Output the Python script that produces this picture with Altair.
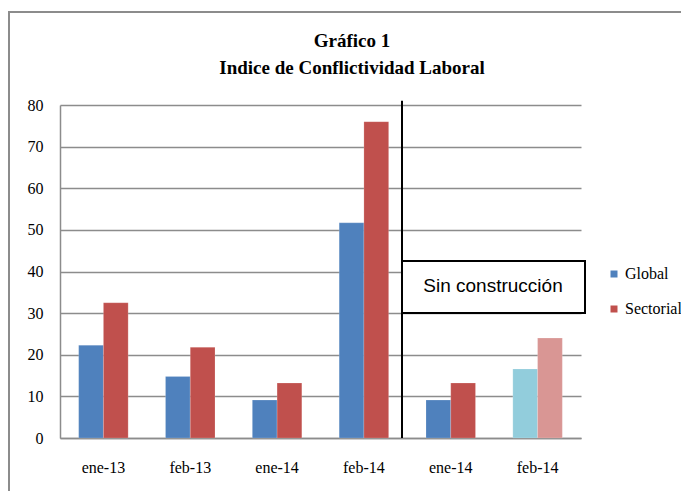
import altair as alt
import pandas as pd

# ---- data ----
categories = ["ene-13", "feb-13", "ene-14", "feb-14", "ene-14*", "feb-14*"]
global_vals = [22.3, 14.8, 9.1, 51.7, 9.1, 16.6]
sectorial_vals = [32.5, 21.8, 13.2, 76.0, 13.2, 24.0]
global_tone = ["Global", "Global", "Global", "Global", "Global", "Global claro"]
sectorial_tone = ["Sectorial", "Sectorial", "Sectorial", "Sectorial", "Sectorial", "Sectorial claro"]
y_ticks = [0, 10, 20, 30, 40, 50, 60, 70, 80]
tones = ["Global", "Sectorial", "Global claro", "Sectorial claro"]
tone_colors = ["#4F81BD", "#C0504D", "#92CDDC", "#D99694"]
title_lines = ["Gráfico 1", "Indice de Conflictividad Laboral"]
box_label = ["Sin construcción"]

SERIF = "Liberation Serif"

rows = []
for c, g, s, gt, st in zip(categories, global_vals, sectorial_vals, global_tone, sectorial_tone):
    rows.append({"cat": c, "series": "Global", "tone": gt, "value": g})
    rows.append({"cat": c, "series": "Sectorial", "tone": st, "value": s})
df = pd.DataFrame(rows)

xscale = alt.Scale(domain=categories, paddingInner=0.43, paddingOuter=0.215)
yscale = alt.Scale(domain=[0, 80])

bars = alt.Chart(df).mark_bar(stroke="white", strokeOpacity=0.35, strokeWidth=0.5).encode(
    x=alt.X("cat:N", scale=xscale, sort=categories,
            axis=alt.Axis(title=None, labelAngle=0, ticks=False, labelPadding=21,
                          labelExpr="replace(datum.label, '*', '')",
                          domainColor="#8c8c8c", domainWidth=1.5,
                          labelFont=SERIF, labelFontSize=16, labelColor="black")),
    xOffset=alt.XOffset("series:N", sort=["Global", "Sectorial"]),
    y=alt.Y("value:Q", scale=yscale,
            axis=alt.Axis(title=None, values=y_ticks, ticks=False, labelPadding=17,
                          grid=True, gridColor="#8c8c8c", gridWidth=1.5,
                          domainColor="#8c8c8c", domainWidth=1.5,
                          labelFont=SERIF, labelFontSize=16, labelColor="black")),
    color=alt.Color("tone:N", scale=alt.Scale(domain=tones, range=tone_colors),
                    legend=alt.Legend(title=None, values=["Global", "Sectorial"],
                                      orient="none", legendX=546, legendY=161,
                                      symbolType="square", symbolSize=49,
                                      symbolStrokeWidth=0, padding=0,
                                      labelFont=SERIF, labelFontSize=16,
                                      labelColor="black", rowPadding=19, labelOffset=3)),
)

# separator line between real and "sin construcción" data
sep_df = pd.DataFrame({"y0": [0], "y1": [81]})
sep = alt.Chart(sep_df).mark_rule(color="black", strokeWidth=2, clip=False).encode(
    x=alt.value(342),
    y=alt.Y("y0:Q", scale=yscale),
    y2="y1:Q",
)

# annotation box
box = alt.Chart(pd.DataFrame({"t": box_label})).mark_rect(
    fill="white", stroke="black", strokeWidth=2, clip=False
).encode(x=alt.value(342), x2=alt.value(525), y=alt.value(156), y2=alt.value(208))

box_text = alt.Chart(pd.DataFrame({"t": box_label})).mark_text(
    font="Liberation Sans", fontSize=19, color="black", align="center", baseline="middle"
).encode(x=alt.value(433), y=alt.value(181), text="t:N")

# title lines
title_df = pd.DataFrame({"t": title_lines, "row": [0, 1]})
title1 = alt.Chart(title_df.iloc[[0]]).mark_text(
    font=SERIF, fontSize=19, fontWeight="bold", color="black", align="center", baseline="middle", clip=False
).encode(x=alt.value(292), y=alt.value(-64), text="t:N")
title2 = alt.Chart(title_df.iloc[[1]]).mark_text(
    font=SERIF, fontSize=19, fontWeight="bold", color="black", align="center", baseline="middle", clip=False
).encode(x=alt.value(292), y=alt.value(-37), text="t:N")

# outer frame (only top/left visible in the reference)
frame = alt.Chart(pd.DataFrame({"t": [""]})).mark_rect(
    fill=None, stroke="#8c8c8c", strokeWidth=2, clip=False
).encode(x=alt.value(-51), x2=alt.value(700), y=alt.value(-93), y2=alt.value(500))

chart = alt.layer(frame, bars, sep, box, box_text, title1, title2).properties(
    width=521,
    height=333,
    autosize=alt.AutoSizeParams(type="none"),
    padding={"left": 52, "top": 97, "right": 100, "bottom": 53},
).configure_view(stroke=None).configure_axis(
    labelFont=SERIF
).configure_legend(labelFont=SERIF).configure_text(font=SERIF)

chart.save("out.html", embed_options={"renderer": "svg", "actions": False})
